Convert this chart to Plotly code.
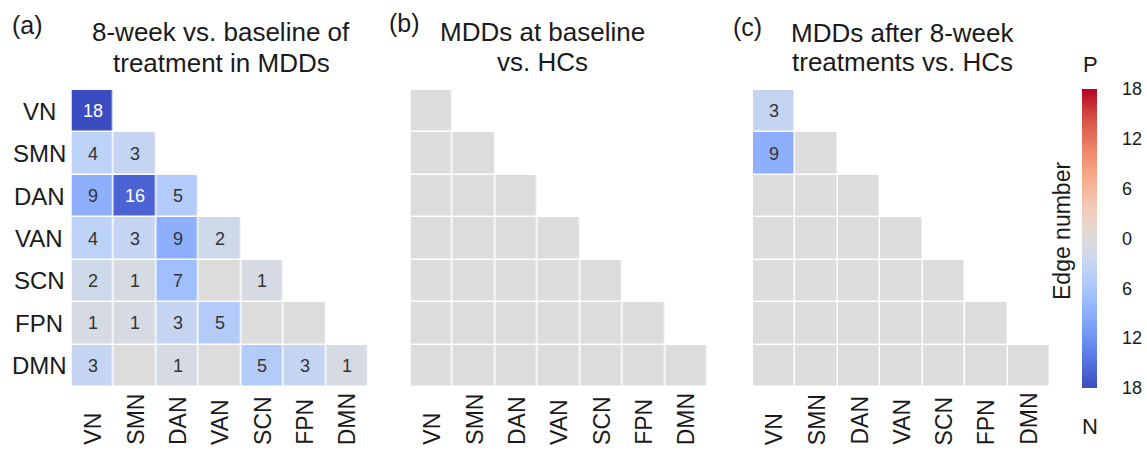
import plotly.graph_objects as go

W, H = 1147, 450

networks = ["VN", "SMN", "DAN", "VAN", "SCN", "FPN", "DMN"]

# signed edge numbers (negative = N, positive = P); lower triangle rows
panel_a = [
    [-18],
    [-4, -3],
    [-9, -16, -5],
    [-4, -3, -9, -2],
    [-2, -1, -7, 0, -1],
    [-1, -1, -3, -5, 0, 0],
    [-3, 0, -1, 0, -5, -3, -1],
]
panel_b = [
    [0],
    [0, 0],
    [0, 0, 0],
    [0, 0, 0, 0],
    [0, 0, 0, 0, 0],
    [0, 0, 0, 0, 0, 0],
    [0, 0, 0, 0, 0, 0, 0],
]
panel_c = [
    [-3],
    [-9, 0],
    [0, 0, 0],
    [0, 0, 0, 0],
    [0, 0, 0, 0, 0],
    [0, 0, 0, 0, 0, 0],
    [0, 0, 0, 0, 0, 0, 0],
]

panel_labels = ["(a)", "(b)", "(c)"]
title_lines = [
    ["8-week vs. baseline of", "treatment in MDDs"],
    ["MDDs at baseline", "vs. HCs"],
    ["MDDs after 8-week", "treatments vs. HCs"],
]

cbar_ticks = [18, 12, 6, 0, -6, -12, -18]
cbar_ticktext = ["18", "12", "6", "0", "6", "12", "18"]

coolwarm = ["#3b4cc0", "#5977e3", "#7b9ff9", "#9ebeff", "#c0d4f5", "#dddcdc",
            "#f2cbb7", "#f7ac8e", "#ee8468", "#d65244", "#b40426"]
colorscale = [[i / 10, c] for i, c in enumerate(coolwarm)]

FONT = "Arial, Liberation Sans, sans-serif"
TXT = "#1a1a1a"

def px_x(p):
    return p / W

def px_y(p):
    return 1 - p / H

# pixel layout of the three heatmaps
panel_px = [(71.5, 368.5), (410.5, 707.5), (753.0, 1050.0)]
top_px, bot_px = 90.0, 387.0

fig = go.Figure()
annotations = []

for k, rows in enumerate([panel_a, panel_b, panel_c]):
    n = len(networks)
    z = [[(rows[i][j] if j <= i else None) for j in range(n)] for i in range(n)]
    ax = "" if k == 0 else str(k + 1)
    fig.add_trace(go.Heatmap(
        z=z, x=networks, y=networks, coloraxis="coloraxis",
        xgap=1.5, ygap=1.5, hoverongaps=False,
        xaxis="x" + ax, yaxis="y" + ax,
    ))
    x0, x1 = panel_px[k]
    fig.update_layout({
        "xaxis" + ax: dict(domain=[px_x(x0), px_x(x1)], anchor="y" + ax,
                           type="category", categoryarray=networks,
                           range=[-0.5, 6.5], showgrid=False, zeroline=False,
                           showticklabels=False, ticks=""),
        "yaxis" + ax: dict(domain=[px_y(bot_px), px_y(top_px)], anchor="x" + ax,
                           type="category", categoryarray=networks,
                           range=[6.5, -0.5], showgrid=False, zeroline=False,
                           showticklabels=False, ticks=""),
    })
    xr = "x" + ax
    yr = "y" + ax
    # cell numbers
    for i in range(n):
        for j in range(i + 1):
            v = rows[i][j]
            if v != 0:
                annotations.append(dict(
                    x=networks[j], y=networks[i], xref=xr, yref=yr,
                    text=str(abs(v)), showarrow=False,
                    font=dict(family=FONT, size=18,
                              color="white" if abs(v) >= 12 else "#333333")))
    # x tick labels (rotated)
    for j, name in enumerate(networks):
        annotations.append(dict(
            x=name, y=px_y(447), xref=xr, yref="paper", text=name,
            textangle=-90, showarrow=False, xanchor="center", yanchor="bottom",
            font=dict(family=FONT, size=23, color=TXT)))
    # y tick labels only on panel a
    if k == 0:
        for i, name in enumerate(networks):
            annotations.append(dict(
                x=px_x(39), y=name, xref="paper", yref=yr, text=name,
                showarrow=False, xanchor="center", yanchor="middle",
                font=dict(family=FONT, size=24, color=TXT)))

# panel letters and titles
letter_pos = [(27, 25), (404, 23), (747, 27)]
title_pos = [(221, 32, 63), (542, 32, 62), (902, 33, 62)]
for k in range(3):
    lx, ly = letter_pos[k]
    annotations.append(dict(x=px_x(lx), y=px_y(ly), xref="paper", yref="paper",
                            text=panel_labels[k], showarrow=False,
                            xanchor="center", yanchor="middle",
                            font=dict(family=FONT, size=25, color=TXT)))
    cx, y1, y2 = title_pos[k]
    for line, yy in zip(title_lines[k], [y1, y2]):
        annotations.append(dict(x=px_x(cx), y=px_y(yy), xref="paper", yref="paper",
                                text=line, showarrow=False,
                                xanchor="center", yanchor="middle",
                                font=dict(family=FONT, size=26, color=TXT)))

# colorbar extra labels
annotations.append(dict(x=px_x(1090), y=px_y(64), xref="paper", yref="paper",
                        text="P", showarrow=False, xanchor="center", yanchor="middle",
                        font=dict(family=FONT, size=22, color=TXT)))
annotations.append(dict(x=px_x(1090), y=px_y(426), xref="paper", yref="paper",
                        text="N", showarrow=False, xanchor="center", yanchor="middle",
                        font=dict(family=FONT, size=22, color=TXT)))
annotations.append(dict(x=px_x(1062), y=px_y(231), xref="paper", yref="paper",
                        text="Edge number", textangle=-90, showarrow=False,
                        xanchor="center", yanchor="middle",
                        font=dict(family=FONT, size=23, color=TXT)))

fig.update_layout(
    width=W, height=H,
    margin=dict(l=0, r=0, t=0, b=0, autoexpand=False),
    paper_bgcolor="white", plot_bgcolor="white",
    showlegend=False,
    annotations=annotations,
    coloraxis=dict(
        colorscale=colorscale, cmin=-18, cmax=18,
        colorbar=dict(
            x=px_x(1082), xanchor="left", xpad=0,
            y=px_y(238.5), yanchor="middle", ypad=0,
            len=299, lenmode="pixels",
            thickness=15, thicknessmode="pixels",
            outlinewidth=0,
            tickvals=cbar_ticks, ticktext=cbar_ticktext,
            ticks="outside", ticklen=22, tickcolor="rgba(0,0,0,0)",
            tickfont=dict(family=FONT, size=18, color=TXT),
        ),
    ),
)

fig.write_html("out.html", config={"displayModeBar": False},
               post_script="document.body.style.margin='0';document.body.style.padding='0';")
